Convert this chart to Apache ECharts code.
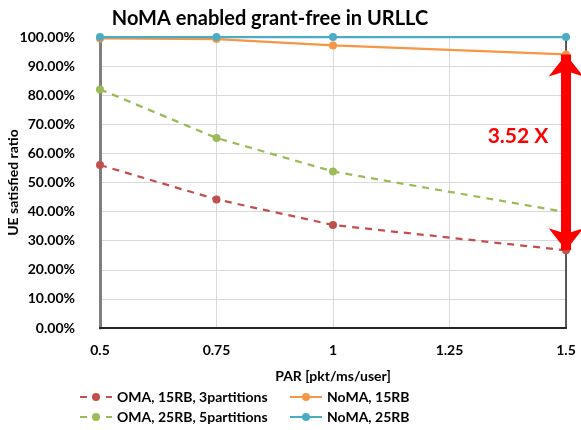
<!DOCTYPE html>
<html>
<head>
<meta charset="utf-8">
<script src="https://cdn.jsdelivr.net/npm/echarts@6/dist/echarts.min.js"></script>
<style>
  html, body { margin: 0; padding: 0; background: #fff; }
  #chart { width: 581px; height: 430px; }
</style>
</head>
<body>
<div id="chart"></div>
<script>
const parValues = [0.5, 0.75, 1, 1.5];
const oma15 = [56.0, 44.2, 35.4, 26.7];
const oma25 = [82.0, 65.3, 53.8, 39.8];
const noma15 = [99.5, 99.3, 97.1, 94.0];
const noma25 = [100, 100, 100, 100];
const gainLabel = '3.52 X';

const font = 'Lato, "Open Sans", sans-serif';
const pairs = vals => parValues.map((x, i) => [x, vals[i]]);

const chart = echarts.init(document.getElementById('chart'));

function lineSeries(name, vals, color, dashed) {
    return {
        name: name,
        type: 'line',
        data: pairs(vals),
        symbol: 'circle',
        symbolSize: 8,
        itemStyle: { color: color },
        lineStyle: { color: color, width: 2.25, type: dashed ? [7, 6] : 'solid' },
        z: dashed ? 2 : 3
    };
}

const series = [
    lineSeries('OMA, 15RB, 3partitions', oma15, '#C0504D', true),
    lineSeries('OMA, 25RB, 5partitions', oma25, '#9BBB59', true),
    lineSeries('NoMA, 15RB', noma15, '#F79646', false),
    lineSeries('NoMA, 25RB', noma25, '#4BACC6', false)
];

// red double arrow between OMA 15RB and NoMA 15RB at the last PAR
const lastX = parValues[parValues.length - 1];
series[0].markLine = {
    silent: true,
    symbol: ['arrow', 'arrow'],
    symbolSize: [26, 22],
    lineStyle: { color: '#FF0000', width: 10, type: 'solid' },
    label: { show: false },
    data: [[{ coord: [lastX, noma15[3]] }, { coord: [lastX, oma15[3]] }]],
    z: 10
};
series[0].markPoint = {
    silent: true,
    symbol: 'circle',
    symbolSize: 1,
    itemStyle: { color: 'rgba(0,0,0,0)' },
    data: [{ coord: [1.397, 66.0] }],
    label: {
        show: true,
        position: 'inside',
        formatter: gainLabel,
        color: '#FF0000',
        fontFamily: font,
        fontWeight: 'bold',
        fontSize: 21
    }
};

const legendBase = {
    orient: 'vertical',
    top: 385,
    itemGap: 6,
    itemWidth: 32,
    itemHeight: 10,
    textStyle: { fontFamily: font, fontSize: 14, fontWeight: 'bold', color: '#000' }
};

chart.setOption({
    animation: false,
    title: {
        text: 'NoMA enabled grant-free in URLLC',
        left: 265,
        textAlign: 'center',
        top: 4,
        textStyle: { fontFamily: font, fontSize: 20, fontWeight: 'bold', color: '#000' }
    },
    legend: [
        Object.assign({ left: 74, data: ['OMA, 15RB, 3partitions', 'OMA, 25RB, 5partitions'] }, legendBase),
        Object.assign({ left: 284, data: ['NoMA, 15RB', 'NoMA, 25RB'] }, legendBase)
    ],
    grid: { left: 100, right: 15, top: 37, bottom: 102, outerBoundsMode: 'none' },
    xAxis: [{
        type: 'value',
        min: 0.5,
        max: 1.5,
        interval: 0.25,
        name: 'PAR [pkt/ms/user]',
        nameLocation: 'middle',
        nameGap: 41,
        nameMoveOverlap: false,
        nameTextStyle: { fontFamily: font, fontSize: 14, fontWeight: 'bold', color: '#000' },
        axisLine: { lineStyle: { color: '#262626', width: 2 } },
        axisTick: { show: false },
        axisLabel: { fontFamily: font, fontSize: 14, fontWeight: 'bold', color: '#000', margin: 15 },
        splitLine: { lineStyle: { color: '#d9d9d9', width: 1 } }
    }, {
        type: 'value',
        position: 'top',
        min: 0.5,
        max: 1.5,
        axisLine: { show: true, lineStyle: { color: '#262626', width: 1.5 } },
        axisTick: { show: false },
        axisLabel: { show: false },
        splitLine: { show: false }
    }],
    yAxis: [{
        type: 'value',
        min: 0,
        max: 100,
        interval: 10,
        name: 'UE satisfied ratio',
        nameLocation: 'middle',
        nameRotate: 90,
        nameGap: 80,
        nameMoveOverlap: false,
        nameTextStyle: { fontFamily: font, fontSize: 14, fontWeight: 'bold', color: '#000' },
        axisLine: { show: true, lineStyle: { color: '#7f7f7f', width: 3 } },
        axisTick: { show: false },
        axisLabel: {
            fontFamily: font, fontSize: 14, fontWeight: 'bold', color: '#000', margin: 25,
            formatter: v => v.toFixed(2) + '%'
        },
        splitLine: { lineStyle: { color: '#d9d9d9', width: 1 } }
    }, {
        type: 'value',
        position: 'right',
        min: 0,
        max: 100,
        axisLine: { show: true, lineStyle: { color: '#262626', width: 1.5 } },
        axisTick: { show: false },
        axisLabel: { show: false },
        splitLine: { show: false }
    }],
    series: series
});
</script>
</body>
</html>
